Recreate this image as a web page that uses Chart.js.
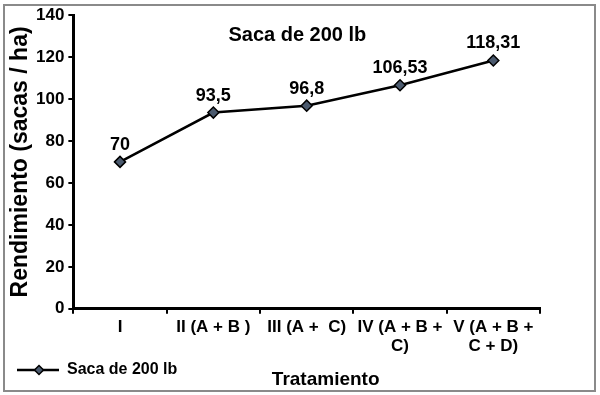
<!DOCTYPE html>
<html>
<head>
<meta charset="utf-8">
<script src="https://cdn.jsdelivr.net/npm/chart.js@4.4.1/dist/chart.umd.min.js"></script>
<style>
  html, body { margin: 0; padding: 0; background: #fff; }
  #wrap { width: 600px; height: 395px; }
</style>
</head>
<body>
<div id="wrap"><canvas id="grafico" width="600" height="395"></canvas></div>
<script>
// datos
const tratamientos = ['I', 'II (A + B )', 'III (A +  C)', ['IV (A + B +', 'C)'], ['V (A + B +', 'C + D)']];
const rendimiento = [70, 93.5, 96.8, 106.53, 118.31];
const serieNombre = 'Saca de 200 lb';
const tituloGrafico = 'Saca de 200 lb';
const ticksY = [0, 20, 40, 60, 80, 100, 120, 140];

const fuente = "'Liberation Sans', Arial, sans-serif";

// icono de la leyenda: línea con rombo (con margen izquierdo transparente)
const iconoLeyenda = document.createElement('canvas');
iconoLeyenda.width = 50; iconoLeyenda.height = 12;
(() => {
  const c = iconoLeyenda.getContext('2d');
  c.strokeStyle = '#000'; c.lineWidth = 2.5;
  c.beginPath(); c.moveTo(8, 6); c.lineTo(50, 6); c.stroke();
  c.fillStyle = '#4b5a6e'; c.lineWidth = 1.5;
  c.beginPath(); c.moveTo(30, 1.5); c.lineTo(34.5, 6); c.lineTo(30, 10.5); c.lineTo(25.5, 6); c.closePath();
  c.fill(); c.stroke();
})();

// marco gris, título interior y etiquetas de valores
const extras = {
  id: 'extras',
  beforeDraw(chart) {
    const c = chart.ctx;
    c.save();
    c.strokeStyle = '#8a8a8a'; c.lineWidth = 2;
    c.strokeRect(4, 5, 591, 386);
    c.restore();
  },
  afterDatasetsDraw(chart) {
    const c = chart.ctx;
    const area = chart.chartArea;
    c.save();
    c.fillStyle = '#000';
    c.textAlign = 'center';
    c.font = 'bold 20px ' + fuente;
    c.textBaseline = 'middle';
    c.fillText(tituloGrafico, area.left + (area.right - area.left) * 0.48, area.top + 20);
    c.font = 'bold 18px ' + fuente;
    c.textBaseline = 'bottom';
    chart.getDatasetMeta(0).data.forEach((p, i) => {
      c.fillText(String(rendimiento[i]).replace('.', ','), p.x, p.y - 8);
    });
    c.restore();
  }
};

new Chart(document.getElementById('grafico'), {
  type: 'line',
  data: {
    labels: tratamientos,
    datasets: [{
      label: serieNombre,
      data: rendimiento,
      borderColor: '#000',
      borderWidth: 2.5,
      pointStyle: 'rectRot',
      pointRadius: 5.5,
      pointBackgroundColor: '#4b5a6e',
      pointBorderColor: '#000',
      pointBorderWidth: 1.5,
      tension: 0,
    }],
  },
  options: {
    responsive: false,
    animation: false,
    layout: { padding: { left: 9, right: 60, top: 15, bottom: 7 } },
    plugins: {
      legend: {
        display: true,
        position: 'bottom',
        align: 'start',
        labels: {
          usePointStyle: true,
          pointStyleWidth: 50,
          color: '#000',
          font: { family: fuente, size: 16, weight: 'bold' },
          padding: 0,
          generateLabels: () => [{
            text: serieNombre,
            pointStyle: iconoLeyenda,
            fillStyle: '#4b5a6e',
            strokeStyle: '#000',
            lineWidth: 0,
            datasetIndex: 0,
          }],
        },
      },
      title: { display: false },
      tooltip: { enabled: false },
    },
    scales: {
      x: {
        offset: true,
        grid: { display: true, offset: true, drawOnChartArea: false, drawTicks: true, tickLength: 5, color: '#000', lineWidth: 2 },
        border: { display: true, color: '#000', width: 3 },
        ticks: { color: '#000', font: { family: fuente, size: 17, weight: 'bold', lineHeight: 1.1 }, maxRotation: 0, autoSkip: false, padding: 4 },
        title: { display: true, text: '\u2003\u2003Tratamiento', color: '#000', font: { family: fuente, size: 19, weight: 'bold' }, padding: { top: 9, bottom: -29 } },
      },
      y: {
        min: 0, max: 140,
        afterBuildTicks: (scale) => { scale.ticks = ticksY.map(v => ({ value: v })); },
        grid: { display: true, drawOnChartArea: false, drawTicks: true, tickLength: 5, color: '#000', lineWidth: 2 },
        border: { display: true, color: '#000', width: 3 },
        ticks: { color: '#000', font: { family: fuente, size: 17, weight: 'bold' }, padding: 4 },
        title: { display: true, text: 'Rendimiento (sacas / ha)', color: '#000', font: { family: fuente, size: 23, weight: 'bold', lineHeight: 1 }, padding: { top: 0, bottom: 0 } },
      },
    },
  },
  plugins: [extras],
});
</script>
</body>
</html>
